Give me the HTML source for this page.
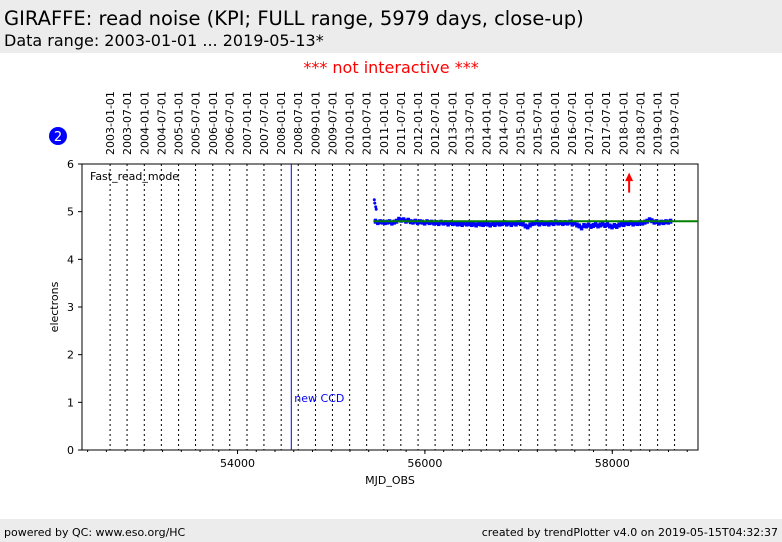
<!DOCTYPE html>
<html><head><meta charset="utf-8"><style>
body{margin:0;width:782px;height:542px;background:#fff;font-family:"DejaVu Sans","Liberation Sans",sans-serif;position:relative;overflow:hidden}
.hdr{position:absolute;left:0;top:0;width:782px;height:53px;background:#ececec}
.t1{position:absolute;left:4px;top:7px;font-size:19.5px;color:#000}
.t2{position:absolute;left:4px;top:31px;font-size:16px;color:#000}
.ni{position:absolute;left:0;width:782px;top:58px;text-align:center;color:red;font-size:16px}
.ftr{position:absolute;left:0;top:519px;width:782px;height:23px;background:#ececec;font-size:11px}
</style></head><body>
<div class="hdr">
<div class="t1">GIRAFFE: read noise (KPI; FULL range, 5979 days, close-up)</div>
<div class="t2">Data range: 2003-01-01 ... 2019-05-13*</div></div>
<div class="ni">*** not interactive ***</div>
<svg id="c" width="782" height="542" style="position:absolute;left:0;top:0;font-family:'DejaVu Sans',sans-serif"></svg>
<div class="ftr">
<span style="position:absolute;left:4px;top:7px">powered by QC: www.eso.org/HC</span>
<span style="position:absolute;right:4px;top:7px">created by trendPlotter v4.0 on 2019-05-15T04:32:37</span></div>
<script>
const dateLabels=["2003-01-01","2003-07-01","2004-01-01","2004-07-01","2005-01-01","2005-07-01","2006-01-01","2006-07-01","2007-01-01","2007-07-01","2008-01-01","2008-07-01","2009-01-01","2009-07-01","2010-01-01","2010-07-01","2011-01-01","2011-07-01","2012-01-01","2012-07-01","2013-01-01","2013-07-01","2014-01-01","2014-07-01","2015-01-01","2015-07-01","2016-01-01","2016-07-01","2017-01-01","2017-07-01","2018-01-01","2018-07-01","2019-01-01","2019-07-01"];
const yTicks=[0,1,2,3,4,5,6];
const xTicks=[54000,56000,58000];
const startMjd=55470, stepDays=25;
const noise=[4.80,4.77,4.79,4.78,4.77,4.78,4.79,4.76,4.78,4.80,4.84,4.82,4.83,4.80,4.82,4.79,4.78,4.80,4.77,4.79,4.78,4.76,4.79,4.77,4.78,4.76,4.77,4.75,4.78,4.76,4.77,4.74,4.77,4.75,4.76,4.74,4.75,4.73,4.76,4.74,4.75,4.73,4.74,4.72,4.75,4.74,4.73,4.75,4.74,4.72,4.75,4.73,4.76,4.74,4.75,4.77,4.74,4.76,4.73,4.76,4.74,4.77,4.75,4.74,4.70,4.68,4.72,4.75,4.76,4.78,4.74,4.77,4.75,4.76,4.74,4.77,4.75,4.78,4.76,4.77,4.75,4.77,4.76,4.78,4.74,4.76,4.72,4.70,4.66,4.71,4.70,4.72,4.69,4.71,4.73,4.70,4.72,4.74,4.71,4.73,4.70,4.68,4.71,4.69,4.72,4.74,4.73,4.76,4.75,4.77,4.74,4.76,4.75,4.77,4.76,4.78,4.80,4.83,4.81,4.78,4.79,4.76,4.78,4.77,4.79,4.78,4.80];
const outMjd=[55460,55465,55475,55480], outVal=[5.25,5.18,5.10,5.05];
const refLevel=4.80, refStart=55450;
const ccdMjd=54574, arrowMjd=58180;
const X0=82,X1=698,Y0=450,Y1=164,M0=52340,M1=58915;
const sx=m=>X0+(m-M0)/(M1-M0)*(X1-X0), sy=v=>Y0-v/6*(Y0-Y1);
const s=document.getElementById('c'),NS="http://www.w3.org/2000/svg";
function el(t,a,txt){const e=document.createElementNS(NS,t);for(const k in a)e.setAttribute(k,a[k]);if(txt!=null)e.textContent=txt;s.appendChild(e);return e;}
const toMjd=d=>Date.parse(d+"T00:00:00Z")/86400000+40587;
dateLabels.forEach(d=>{const x=sx(toMjd(d));
let l=el('line',{x1:x,x2:x,y1:Y1,y2:Y0,stroke:'#000','stroke-width':1,'stroke-dasharray':'2,3'});

let t=el('text',{x:0,y:0,transform:`translate(${x+4},155) rotate(-90)`,'font-size':11},d);
});
let fr=el('rect',{x:X0,y:Y1,width:X1-X0,height:Y0-Y1,fill:'none',stroke:'#000'});

yTicks.forEach(v=>{const y=sy(v);el('line',{x1:X0-4,x2:X0,y1:y,y2:y,stroke:'#000'});
let t=el('text',{x:X0-8,y:y+4,'font-size':11,'text-anchor':'end'},v);});
for(let m=52400;m<=58900;m+=200){const x=sx(m);el('line',{x1:x,x2:x,y1:Y0,y2:Y0+2,stroke:'#000'});}
xTicks.forEach(m=>{const x=sx(m);el('line',{x1:x,x2:x,y1:Y0,y2:Y0+4,stroke:'#000'});
let t=el('text',{x:x,y:Y0+17,'font-size':11,'text-anchor':'middle'},m);});
let xt=el('text',{x:390,y:484,'font-size':11,'text-anchor':'middle'},'MJD_OBS');
let yt=el('text',{x:0,y:0,transform:'translate(58,307) rotate(-90)','font-size':11,'text-anchor':'middle'},'electrons');
let fm=el('text',{x:90,y:180,'font-size':11},'Fast_read_mode');
let cl=el('line',{x1:sx(ccdMjd),x2:sx(ccdMjd),y1:Y1,y2:Y0,stroke:'blue','stroke-width':1});
let ct=el('text',{x:sx(ccdMjd)+3,y:402,'font-size':11,fill:'blue'},'new CCD');
noise.forEach((v,i)=>{const m=startMjd+i*stepDays;
let r=el('rect',{x:sx(m)-1.5,y:sy(v)-2.5,width:3.5,height:5,fill:'blue'});});
outMjd.forEach((m,i)=>{let c=el('circle',{cx:sx(m),cy:sy(outVal[i]),r:1.5,fill:'blue'});});
let g=el('line',{x1:sx(refStart),x2:X1,y1:sy(refLevel),y2:sy(refLevel),stroke:'green','stroke-width':2});
const ax=sx(arrowMjd);
let a=el('line',{x1:ax,x2:ax,y1:sy(5.4),y2:sy(5.68),stroke:'red','stroke-width':2});
let ah=el('polygon',{points:`${ax-4},${sy(5.64)} ${ax+4},${sy(5.64)} ${ax},${sy(5.82)}`,fill:'red'});
let b=el('circle',{cx:58,cy:136,r:9,fill:'blue'});
let bt=el('text',{x:58,y:141,'font-size':13,fill:'#fff','text-anchor':'middle'},'2');
</script></body></html>
